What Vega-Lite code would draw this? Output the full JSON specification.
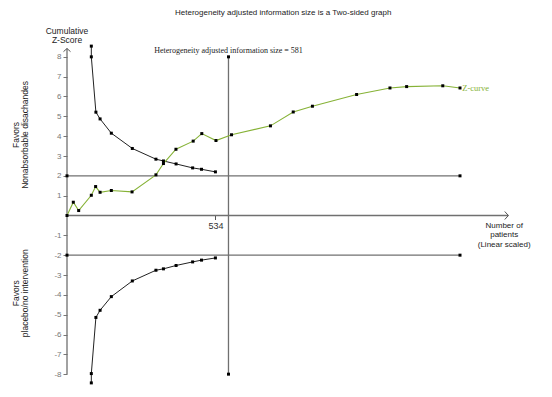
{
  "$schema": "https://vega.github.io/schema/vega-lite/v6.json",
  "autosize": {"type": "none"},
  "padding": {"left": 67, "top": 37, "right": 0, "bottom": 3},
  "width": 485,
  "height": 357,
  "background": "white",
  "config": {"view": {"stroke": null}},
  "datasets": {
    "curves": [
      {"series": "upper", "i": 0, "N": 87.5, "Z": 8.54},
      {"series": "upper", "i": 1, "N": 87.5, "Z": 8.0},
      {"series": "upper", "i": 2, "N": 104, "Z": 5.21},
      {"series": "upper", "i": 3, "N": 119, "Z": 4.87},
      {"series": "upper", "i": 4, "N": 159.5, "Z": 4.15},
      {"series": "upper", "i": 5, "N": 235, "Z": 3.38},
      {"series": "upper", "i": 6, "N": 320, "Z": 2.84},
      {"series": "upper", "i": 7, "N": 347, "Z": 2.75},
      {"series": "upper", "i": 8, "N": 392.5, "Z": 2.6},
      {"series": "upper", "i": 9, "N": 452, "Z": 2.4},
      {"series": "upper", "i": 10, "N": 484, "Z": 2.33},
      {"series": "upper", "i": 11, "N": 534, "Z": 2.2},
      {"series": "lower", "i": 0, "N": 87.5, "Z": -8.44},
      {"series": "lower", "i": 1, "N": 87.5, "Z": -7.97},
      {"series": "lower", "i": 2, "N": 104, "Z": -5.14},
      {"series": "lower", "i": 3, "N": 119, "Z": -4.78},
      {"series": "lower", "i": 4, "N": 159.5, "Z": -4.09},
      {"series": "lower", "i": 5, "N": 235, "Z": -3.3},
      {"series": "lower", "i": 6, "N": 320, "Z": -2.76},
      {"series": "lower", "i": 7, "N": 347, "Z": -2.69},
      {"series": "lower", "i": 8, "N": 392.5, "Z": -2.52},
      {"series": "lower", "i": 9, "N": 452, "Z": -2.34},
      {"series": "lower", "i": 10, "N": 484, "Z": -2.25},
      {"series": "lower", "i": 11, "N": 534, "Z": -2.14},
      {"series": "zcurve", "i": 0, "N": 0, "Z": 0},
      {"series": "zcurve", "i": 1, "N": 22.7, "Z": 0.67},
      {"series": "zcurve", "i": 2, "N": 42, "Z": 0.25},
      {"series": "zcurve", "i": 3, "N": 87.5, "Z": 1.02},
      {"series": "zcurve", "i": 4, "N": 103, "Z": 1.46},
      {"series": "zcurve", "i": 5, "N": 119, "Z": 1.17},
      {"series": "zcurve", "i": 6, "N": 159.5, "Z": 1.26},
      {"series": "zcurve", "i": 7, "N": 234, "Z": 1.19},
      {"series": "zcurve", "i": 8, "N": 320, "Z": 2.05},
      {"series": "zcurve", "i": 9, "N": 347, "Z": 2.62},
      {"series": "zcurve", "i": 10, "N": 392, "Z": 3.34},
      {"series": "zcurve", "i": 11, "N": 454, "Z": 3.75},
      {"series": "zcurve", "i": 12, "N": 485, "Z": 4.13},
      {"series": "zcurve", "i": 13, "N": 536, "Z": 3.78},
      {"series": "zcurve", "i": 14, "N": 592, "Z": 4.07},
      {"series": "zcurve", "i": 15, "N": 732, "Z": 4.52},
      {"series": "zcurve", "i": 16, "N": 814, "Z": 5.22},
      {"series": "zcurve", "i": 17, "N": 883, "Z": 5.51},
      {"series": "zcurve", "i": 18, "N": 1042, "Z": 6.1},
      {"series": "zcurve", "i": 19, "N": 1162, "Z": 6.43},
      {"series": "zcurve", "i": 20, "N": 1222, "Z": 6.5},
      {"series": "zcurve", "i": 21, "N": 1352, "Z": 6.54},
      {"series": "zcurve", "i": 22, "N": 1414, "Z": 6.43},
      {"series": "ends", "i": 0, "N": 0, "Z": 2},
      {"series": "ends", "i": 1, "N": 1414, "Z": 2},
      {"series": "ends", "i": 2, "N": 0, "Z": -2},
      {"series": "ends", "i": 3, "N": 1414, "Z": -2},
      {"series": "ends", "i": 4, "N": 581, "Z": 8},
      {"series": "ends", "i": 5, "N": 581, "Z": -8}
    ],
    "rules": [
      {"name": "upper2", "N": 0, "N2": 1414, "Z": 2, "Z2": 2},
      {"name": "lower2", "N": 0, "N2": 1414, "Z": -2, "Z2": -2},
      {"name": "his", "N": 581, "N2": 581, "Z": -8, "Z2": 8},
      {"name": "xaxis", "N": 0, "N2": 1588, "Z": 0, "Z2": 0},
      {"name": "yaxis", "N": 0, "N2": 0, "Z": -8, "Z2": 8.42}
    ]
  },
  "layer": [
    {
      "data": {"name": "rules"},
      "mark": {"type": "rule", "color": "#707070", "strokeWidth": 1.3},
      "encoding": {
        "x": {
          "field": "N", "type": "quantitative",
          "scale": {"domain": [0, 1745], "nice": false, "zero": false},
          "axis": {
            "values": [534], "offset": -178.5, "domain": false, "grid": false,
            "tickSize": 4, "tickColor": "#555", "labelFontSize": 9, "labelColor": "#333",
            "labelFont": "Liberation Sans", "labelPadding": 2, "title": null
          }
        },
        "x2": {"field": "N2"},
        "y": {
          "field": "Z", "type": "quantitative",
          "scale": {"domain": [-9, 9], "nice": false, "zero": false},
          "axis": {
            "values": [-8, -7, -6, -5, -4, -3, -2, -1, 1, 2, 3, 4, 5, 6, 7, 8],
            "tickCount": 30,
            "domain": false, "grid": false, "tickSize": 4, "tickColor": "#777",
            "labelFontSize": 8, "labelColor": "#777", "labelFont": "Liberation Sans",
            "labelPadding": 2, "title": null, "labelExpr": "datum.value + ''",
            "labelOverlap": false
          }
        },
        "y2": {"field": "Z2"}
      }
    },
    {
      "data": {"name": "curves"},
      "transform": [{"filter": "datum.series === 'upper' || datum.series === 'lower'"}],
      "mark": {"type": "line", "color": "#222", "strokeWidth": 1},
      "encoding": {
        "x": {"field": "N", "type": "quantitative"},
        "y": {"field": "Z", "type": "quantitative"},
        "detail": {"field": "series"},
        "order": {"field": "i"}
      }
    },
    {
      "data": {"name": "curves"},
      "transform": [{"filter": "datum.series === 'zcurve'"}],
      "mark": {"type": "line", "color": "#86b236", "strokeWidth": 1.1},
      "encoding": {
        "x": {"field": "N", "type": "quantitative"},
        "y": {"field": "Z", "type": "quantitative"},
        "order": {"field": "i"}
      }
    },
    {
      "data": {"name": "curves"},
      "mark": {"type": "point", "shape": "square", "filled": true, "color": "#000", "size": 9, "opacity": 1},
      "encoding": {
        "x": {"field": "N", "type": "quantitative"},
        "y": {"field": "Z", "type": "quantitative"}
      }
    },
    {
      "data": {"values": [{"N": 0, "Z": 8.42}]},
      "mark": {"type": "point", "shape": "M-1,0.9L0,0L1,0.9", "filled": false, "color": "#555", "strokeWidth": 1, "size": 49, "opacity": 1},
      "encoding": {
        "x": {"field": "N", "type": "quantitative"},
        "y": {"field": "Z", "type": "quantitative"}
      }
    },
    {
      "data": {"values": [{"N": 1588, "Z": 0}]},
      "mark": {"type": "point", "shape": "M-0.9,-1L0,0L-0.9,1", "filled": false, "color": "#555", "strokeWidth": 1, "size": 64, "opacity": 1},
      "encoding": {
        "x": {"field": "N", "type": "quantitative"},
        "y": {"field": "Z", "type": "quantitative"}
      }
    },
    {
      "data": {"values": [{"label": "Heterogeneity adjusted information size is a Two-sided graph", "N": 778, "Z": 10.21}]},
      "mark": {"type": "text", "font": "Liberation Sans", "fontSize": 8, "color": "#222", "align": "center", "baseline": "middle"},
      "encoding": {
        "x": {"field": "N", "type": "quantitative"},
        "y": {"field": "Z", "type": "quantitative"},
        "text": {"field": "label"}
      }
    },
    {
      "data": {"values": [{"label": "Cumulative\nZ-Score", "N": 0, "Z": 9.3}]},
      "mark": {"type": "text", "font": "Liberation Sans", "fontSize": 8.5, "color": "#222", "align": "center", "baseline": "middle", "lineBreak": "\n", "lineHeight": 9},
      "encoding": {
        "x": {"field": "N", "type": "quantitative"},
        "y": {"field": "Z", "type": "quantitative"},
        "text": {"field": "label"}
      }
    },
    {
      "data": {"values": [{"label": "Heterogeneity adjusted information size = 581", "N": 581, "Z": 8.29}]},
      "mark": {"type": "text", "font": "Liberation Serif", "fontSize": 8, "color": "#222", "align": "center", "baseline": "middle"},
      "encoding": {
        "x": {"field": "N", "type": "quantitative"},
        "y": {"field": "Z", "type": "quantitative"},
        "text": {"field": "label"}
      }
    },
    {
      "data": {"values": [{"label": "Z-curve", "N": 1422, "Z": 6.41}]},
      "mark": {"type": "text", "font": "Liberation Serif", "fontSize": 8.5, "color": "#86b236", "align": "left", "baseline": "middle"},
      "encoding": {
        "x": {"field": "N", "type": "quantitative"},
        "y": {"field": "Z", "type": "quantitative"},
        "text": {"field": "label"}
      }
    },
    {
      "data": {"values": [{"label": "Number of\npatients\n(Linear scaled)", "N": 1573, "Z": -0.53}]},
      "mark": {"type": "text", "font": "Liberation Sans", "fontSize": 8, "color": "#222", "align": "center", "baseline": "middle", "lineBreak": "\n", "lineHeight": 9.3},
      "encoding": {
        "x": {"field": "N", "type": "quantitative"},
        "y": {"field": "Z", "type": "quantitative"},
        "text": {"field": "label"}
      }
    },
    {
      "data": {"values": [
        {"label": "Favors\nNonabsorbable disachandes", "N": -185, "Z": 4.06},
        {"label": "Favors\nplacebo/no intervention", "N": -185, "Z": -3.92}
      ]},
      "mark": {"type": "text", "font": "Liberation Sans", "fontSize": 8.5, "color": "#222", "align": "center", "baseline": "middle", "angle": 270, "lineBreak": "\n", "lineHeight": 9.5},
      "encoding": {
        "x": {"field": "N", "type": "quantitative"},
        "y": {"field": "Z", "type": "quantitative"},
        "text": {"field": "label"}
      }
    }
  ]
}
